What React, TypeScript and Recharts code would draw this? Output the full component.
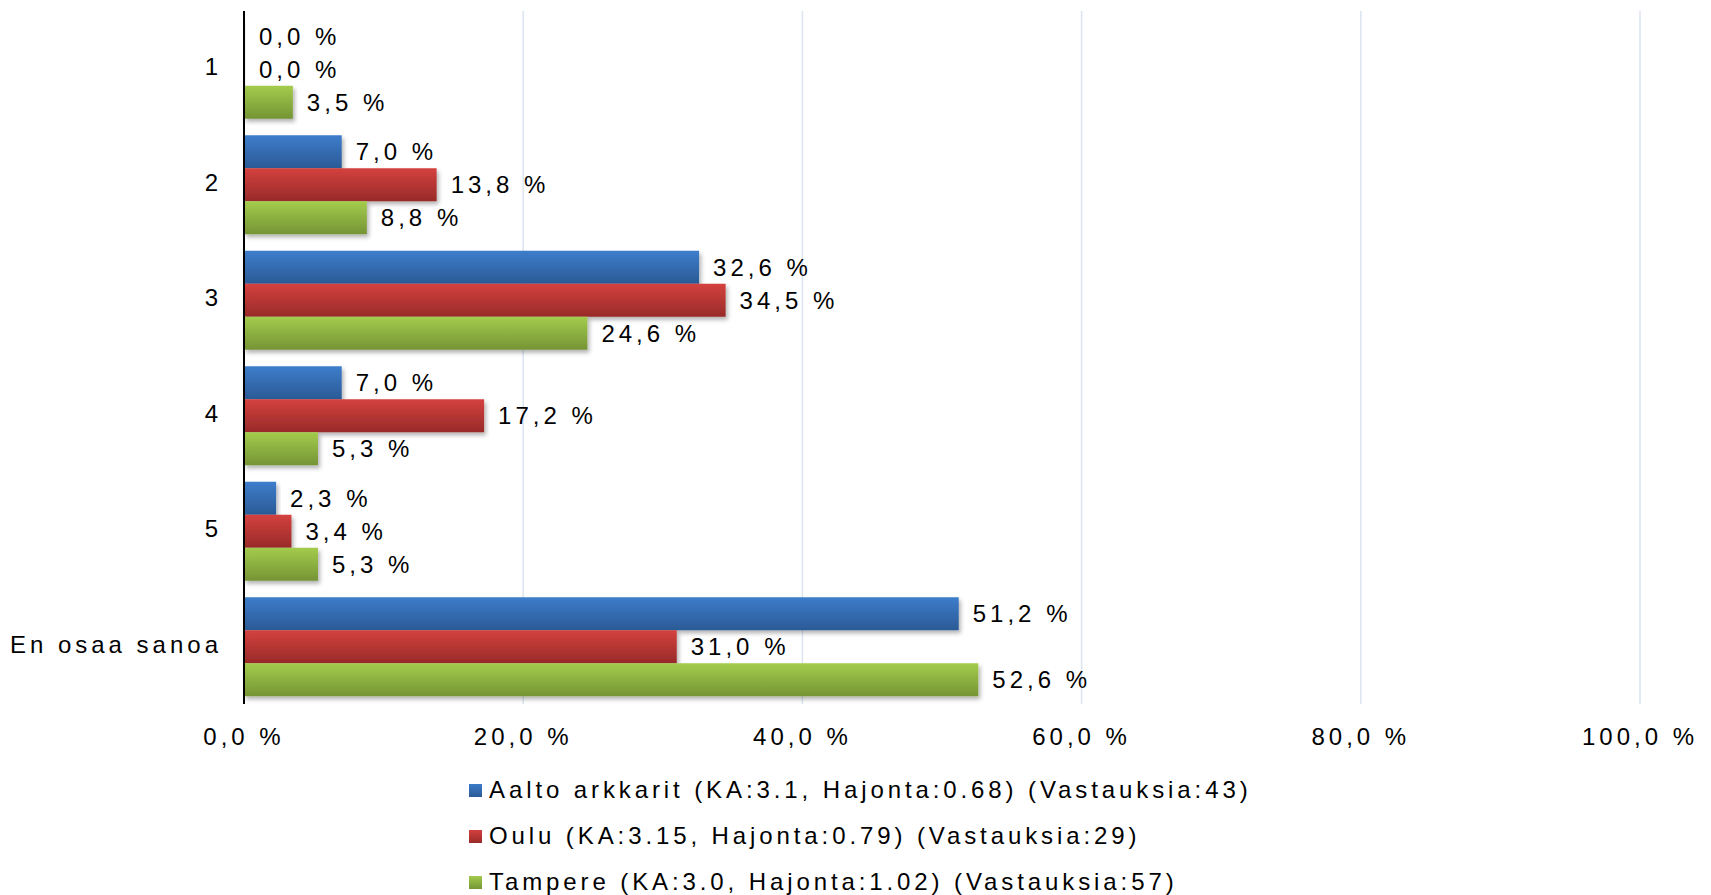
import { BarChart, Bar, XAxis, YAxis, CartesianGrid, Legend, LabelList } from 'recharts'

const categories = ['1', '2', '3', '4', '5', 'En osaa sanoa']
const aalto = [0.0, 7.0, 32.6, 7.0, 2.3, 51.2]
const oulu = [0.0, 13.8, 34.5, 17.2, 3.4, 31.0]
const tampere = [3.5, 8.8, 24.6, 5.3, 5.3, 52.6]
const xTicks = [0, 20, 40, 60, 80, 100]

const seriesNames = [
  'Aalto arkkarit (KA:3.1, Hajonta:0.68) (Vastauksia:43)',
  'Oulu (KA:3.15, Hajonta:0.79) (Vastauksia:29)',
  'Tampere (KA:3.0, Hajonta:1.02) (Vastauksia:57)',
]

const chartData = categories.map((name, i) => ({
  name,
  aalto: aalto[i],
  oulu: oulu[i],
  tampere: tampere[i],
}))

const FONT = '"Liberation Sans", Arial, sans-serif'
const fmt = (v: number) => `${v.toFixed(1).replace('.', ',')} %`

const legendItems = [
  { name: seriesNames[0], top: '#3c7bc8', bottom: '#2b5a96' },
  { name: seriesNames[1], top: '#d2403d', bottom: '#9a2a29' },
  { name: seriesNames[2], top: '#a2ca4b', bottom: '#779636' },
]

function LegendBox() {
  return (
    <div style={{ height: 138, paddingTop: 13, boxSizing: 'border-box', fontFamily: FONT }}>
      {legendItems.map((it) => (
        <div
          key={it.name}
          style={{ height: 46, display: 'flex', alignItems: 'center', fontSize: 24, letterSpacing: 3.9, color: '#000', whiteSpace: 'nowrap' }}
        >
          <span
            style={{
              display: 'inline-block',
              width: 13,
              height: 13,
              marginRight: 7,
              background: `linear-gradient(${it.top}, ${it.bottom})`,
            }}
          />
          <span>{it.name}</span>
        </div>
      ))}
    </div>
  )
}

const textStyle = { fontSize: 24, fill: '#000', fontFamily: FONT, letterSpacing: 4 }

export default function App() {
  return (
    <div style={{ position: 'absolute', left: 0, top: 0, background: '#fff' }}>
      <BarChart
        width={1711}
        height={895}
        data={chartData}
        layout="vertical"
        margin={{ top: 11, right: 71, left: 0, bottom: 3 }}
        barCategoryGap="7.6%"
        barGap={0}
      >
        <defs>
          <linearGradient id="gBlue" x1="0" y1="0" x2="0" y2="1">
            <stop offset="0%" stopColor="#3d7dcb" />
            <stop offset="100%" stopColor="#2b5a96" />
          </linearGradient>
          <linearGradient id="gRed" x1="0" y1="0" x2="0" y2="1">
            <stop offset="0%" stopColor="#d4413e" />
            <stop offset="100%" stopColor="#982a29" />
          </linearGradient>
          <linearGradient id="gGreen" x1="0" y1="0" x2="0" y2="1">
            <stop offset="0%" stopColor="#a4cc4c" />
            <stop offset="100%" stopColor="#759435" />
          </linearGradient>
          <filter id="shadow" x="-5%" y="-20%" width="120%" height="160%">
            <feDropShadow dx="2" dy="3" stdDeviation="2" floodColor="#000" floodOpacity="0.3" />
          </filter>
        </defs>
        <CartesianGrid horizontal={false} stroke="#dbe5f1" strokeWidth={1.5} />
        <XAxis
          type="number"
          domain={[0, 100]}
          ticks={xTicks}
          tickFormatter={fmt}
          axisLine={false}
          tickLine={false}
          tickSize={0}
          tickMargin={24}
          height={50}
          interval={0}
          tick={textStyle}
        />
        <YAxis
          type="category"
          dataKey="name"
          width={244}
          axisLine={{ stroke: '#000', strokeWidth: 2 }}
          tickLine={false}
          tickSize={0}
          tickMargin={22}
          interval={0}
          tick={{ ...textStyle, dy: -2 }}
        />
        <Legend
          verticalAlign="bottom"
          content={() => <LegendBox />}
          wrapperStyle={{ left: 469, width: 1150 }}
        />
        <Bar dataKey="aalto" fill="url(#gBlue)" filter="url(#shadow)" minPointSize={1} isAnimationActive={false}>
          <LabelList dataKey="aalto" position="right" offset={14} formatter={(v: any) => fmt(Number(v))} style={textStyle} />
        </Bar>
        <Bar dataKey="oulu" fill="url(#gRed)" filter="url(#shadow)" minPointSize={1} isAnimationActive={false}>
          <LabelList dataKey="oulu" position="right" offset={14} formatter={(v: any) => fmt(Number(v))} style={textStyle} />
        </Bar>
        <Bar dataKey="tampere" fill="url(#gGreen)" filter="url(#shadow)" minPointSize={1} isAnimationActive={false}>
          <LabelList dataKey="tampere" position="right" offset={14} formatter={(v: any) => fmt(Number(v))} style={textStyle} />
        </Bar>
      </BarChart>
    </div>
  )
}
